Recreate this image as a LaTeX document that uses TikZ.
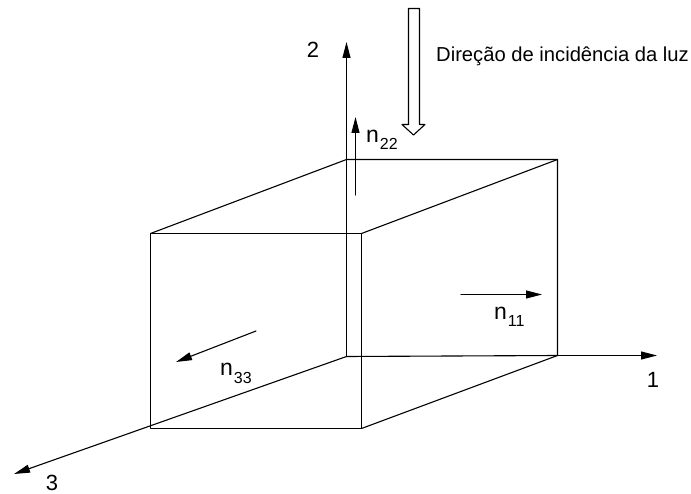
\documentclass[tikz,border=0pt]{standalone}
\usepackage{fontspec}
\setmainfont{Liberation Sans}
\usetikzlibrary{arrows.meta}
\tikzset{
    linha/.style={line width=1.1pt, line cap=round, line join=round},
    seta/.style={linha, -{Triangle[length=16pt, width=8pt]}},
    rotulo/.style={font=\fontsize{22}{24}\selectfont, inner sep=0pt},
    indice/.style={font=\fontsize{23}{24}\selectfont, inner sep=0pt, anchor=base west},
}
\newcommand{\nsub}[1]{n\kern1pt\raisebox{-7pt}{\fontsize{16}{16}\selectfont #1}}
\begin{document}
\begin{tikzpicture}[x=1pt, y=-1pt]
    \useasboundingbox (0,0) rectangle (691,494);
    % -----------------------------------------------------
    % 1) Vertices do cubo
    % -----------------------------------------------------
    \coordinate (O) at (346.5,356.5);
    \coordinate (T) at (346.5,159.5);
    \coordinate (A) at (150.5,233.5);
    \coordinate (B) at (361.5,233.5);
    \coordinate (C) at (361.5,428.5);
    \coordinate (D) at (150.5,428.5);
    \coordinate (E) at (557.5,159.5);
    \coordinate (F) at (557.5,355.5);

    % -----------------------------------------------------
    % 2) Arestas do cubo
    % -----------------------------------------------------
    \draw[linha] (A) -- (B) -- (C) -- (D) -- cycle;
    \draw[linha] (A) -- (T) -- (E) -- (F) -- (C);
    \draw[linha] (B) -- (E);
    \draw[linha] (O) -- (F);

    % -----------------------------------------------------
    % 3) Eixos 1, 2 e 3
    % -----------------------------------------------------
    \coordinate (eixo1) at (657,355.5);
    \coordinate (eixo2) at (346.5,42);
    \coordinate (eixo3) at (14,474);
    \draw[seta] (O) -- (eixo2);
    \draw[seta] (F) -- (eixo1);
    \draw[seta] (O) -- (eixo3);
    \node[rotulo] (um) at (653,380) {1};
    \node[rotulo] (dois) at (313,50) {2};
    \node[rotulo] (tres) at (52,483) {3};

    % -----------------------------------------------------
    % 4) Indices de refracao
    % -----------------------------------------------------
    \coordinate (n22a) at (355.5,195);
    \coordinate (n22b) at (355.5,117);
    \coordinate (n33a) at (256,331);
    \coordinate (n33b) at (176,362);
    \coordinate (n11a) at (461,294.5);
    \coordinate (n11b) at (542,294.5);
    \draw[seta] (n22a) -- (n22b);
    \draw[seta] (n33a) -- (n33b);
    \draw[seta] (n11a) -- (n11b);
    \node[indice] (rotn22) at (366,143) {\nsub{22}};
    \node[indice] (rotn33) at (220,376) {\nsub{33}};
    \node[indice] (rotn11) at (494,320) {\nsub{11}};

    % -----------------------------------------------------
    % 5) Direcao da luz
    % -----------------------------------------------------
    \draw[linha, fill=white]
        (408.5,8.5) -- (419.5,8.5) -- (419.5,124.5) -- (425,124.5) -- (413.5,135)
        -- (402,124.5) -- (408.5,124.5) -- cycle;
    \node[anchor=west, inner sep=0pt, font=\fontsize{20.2}{22}\selectfont] (luz) at (436,56)
        {Direção de incidência da luz};
\end{tikzpicture}
\end{document}
